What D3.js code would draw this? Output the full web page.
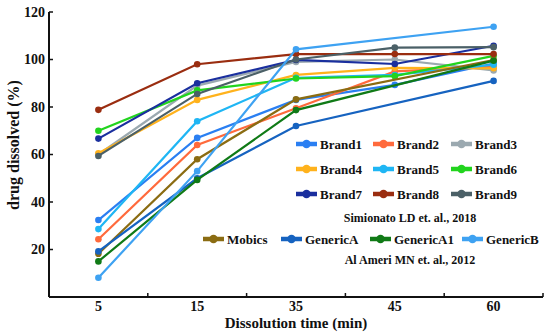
<!DOCTYPE html>
<html>
<head>
<meta charset="utf-8">
<script src="https://cdn.jsdelivr.net/npm/d3@7"></script>
<style>
  body { margin: 0; background: #fff; }
  svg text { font-family: "Liberation Serif", "Times New Roman", serif; font-weight: 700; fill: #111; }
</style>
</head>
<body>
<div id="chart"></div>
<script>
// Dissolution profiles: Simionato 2018 brands + Al Ameri 2012 generics
const TIMES = ['5', '15', '35', '45', '60'];
const TIMES_AL_AMERI = ['5', '15', '35', '60'];
const Y_TICKS = [20, 40, 60, 80, 100, 120];

const brand1 = [32.4, 67, 83, 89.3, 98.3];
const brand2 = [24.3, 64, 79.5, 95, 97];
const brand3 = [60, 89, 99, 100, 95.4];
const brand4 = [60.5, 83, 93.5, 96.5, 96.3];
const brand5 = [28.6, 74, 92.3, 93.5, 97.8];
const brand6 = [70, 87, 92, 93, 101.5];
const brand7 = [66.7, 90, 99.8, 98.1, 105.8];
const brand8 = [78.8, 98, 102.3, 102.3, 102.3];
const brand9 = [59.4, 85.5, 100, 105, 105.2];
const mobics = [18.2, 58, 83.2, 99.8];
const genericA = [19.2, 50, 72, 91];
const genericA1 = [15, 49.3, 78.7, 99.5];
const genericB = [8.1, 53, 104.3, 113.8];

const SERIES = [
  { name: 'Brand1', times: TIMES, values: brand1, colour: '#2a7ff2' },
  { name: 'Brand2', times: TIMES, values: brand2, colour: '#ff6a3c' },
  { name: 'Brand3', times: TIMES, values: brand3, colour: '#9ba9b0' },
  { name: 'Brand4', times: TIMES, values: brand4, colour: '#ffb21c' },
  { name: 'Brand5', times: TIMES, values: brand5, colour: '#1fb6f4' },
  { name: 'Brand6', times: TIMES, values: brand6, colour: '#22d41e' },
  { name: 'Brand7', times: TIMES, values: brand7, colour: '#1a2f9e' },
  { name: 'Brand8', times: TIMES, values: brand8, colour: '#9a2d10' },
  { name: 'Brand9', times: TIMES, values: brand9, colour: '#4b6067' },
  { name: 'Mobics', times: TIMES_AL_AMERI, values: mobics, colour: '#8b6c12' },
  { name: 'GenericA', times: TIMES_AL_AMERI, values: genericA, colour: '#1663c0' },
  { name: 'GenericA1', times: TIMES_AL_AMERI, values: genericA1, colour: '#107a16' },
  { name: 'GenericB', times: TIMES_AL_AMERI, values: genericB, colour: '#3ea2f2' }
];

const width = 550, height = 335;
const X0 = 49, X1 = 543, Y0 = 297, Y1 = 12;

const svg = d3.select('#chart').append('svg')
  .attr('width', width)
  .attr('height', height);

const x = d3.scaleBand().domain(TIMES).range([X0, X1]);
const y = d3.scaleLinear().domain([0, 120]).range([Y0, Y1]);
const cx = t => x(t) + x.bandwidth() / 2;

// Axes
const xAxis = svg.append('g').attr('transform', `translate(0,${Y0})`);
xAxis.append('line').attr('x1', X0).attr('x2', X1).attr('stroke', '#111').attr('stroke-width', 2);
xAxis.selectAll('.tk').data(TIMES.slice(1)).join('line')
  .attr('x1', d => x(d)).attr('x2', d => x(d))
  .attr('y1', 0).attr('y2', -4)
  .attr('stroke', '#111').attr('stroke-width', 1.5);
xAxis.append('line').attr('x1', X1).attr('x2', X1).attr('y1', 0).attr('y2', -4)
  .attr('stroke', '#111').attr('stroke-width', 1.5);
xAxis.selectAll('.lbl').data(TIMES).join('text')
  .attr('x', d => cx(d)).attr('y', 14)
  .attr('text-anchor', 'middle')
  .style('font-size', '14px')
  .text(d => d);

const yAxis = svg.append('g').attr('transform', `translate(${X0},0)`);
yAxis.append('line').attr('y1', Y0).attr('y2', Y1).attr('stroke', '#111').attr('stroke-width', 2);
yAxis.selectAll('.tk').data(Y_TICKS).join('line')
  .attr('y1', d => y(d)).attr('y2', d => y(d))
  .attr('x1', 0).attr('x2', 4)
  .attr('stroke', '#111').attr('stroke-width', 1.5);
yAxis.selectAll('.lbl').data(Y_TICKS).join('text')
  .attr('x', -4).attr('y', d => y(d))
  .attr('dy', '0.35em')
  .attr('text-anchor', 'end')
  .style('font-size', '14px')
  .text(d => d);

// axis titles
svg.append('text')
  .attr('transform', `translate(19,145) rotate(-90)`)
  .attr('text-anchor', 'middle')
  .style('font-size', '16px')
  .text('drug dissolved (%)');

svg.append('text')
  .attr('x', 296).attr('y', 328)
  .attr('text-anchor', 'middle')
  .style('font-size', '15px')
  .text('Dissolution time (min)');

// Lines and markers
const line = d3.line().x(d => cx(d.t)).y(d => y(d.v));

for (const s of SERIES) {
  const pts = s.times.map((t, i) => ({ t, v: s.values[i] }));
  svg.append('path')
    .datum(pts)
    .attr('d', line)
    .attr('fill', 'none')
    .attr('stroke', s.colour)
    .attr('stroke-width', 2.2);
  svg.selectAll(null).data(pts).join('circle')
    .attr('cx', d => cx(d.t)).attr('cy', d => y(d.v))
    .attr('r', 3.3)
    .attr('fill', s.colour);
}

// Legend
const LEGEND_POS = [
  [296, 144], [373, 144], [451, 144],
  [296, 169], [373, 169], [451, 169],
  [296, 194], [373, 194], [451, 194],
  [203, 239], [281, 239], [370, 239], [462, 239]
];

SERIES.forEach((s, i) => {
  const [lx, ly] = LEGEND_POS[i];
  const g = svg.append('g').attr('transform', `translate(${lx},${ly})`);
  g.append('line').attr('x1', 0).attr('x2', 21)
    .attr('stroke', s.colour).attr('stroke-width', 4.5);
  g.append('circle').attr('cx', 10.5).attr('r', 4.2).attr('fill', s.colour);
  g.append('text').attr('x', 24).attr('dy', '0.35em')
    .style('font-size', '13px')
    .text(s.name);
});

svg.append('text')
  .attr('x', 410).attr('y', 218).attr('dy', '0.35em')
  .attr('text-anchor', 'middle')
  .style('font-size', '12px')
  .text('Simionato LD et. al., 2018');

svg.append('text')
  .attr('x', 410).attr('y', 260).attr('dy', '0.35em')
  .attr('text-anchor', 'middle')
  .style('font-size', '12px')
  .text('Al Ameri MN et. al., 2012');
</script>
</body>
</html>
